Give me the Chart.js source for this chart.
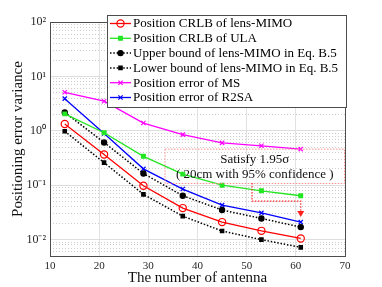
<!DOCTYPE html>
<html>
<head>
<meta charset="utf-8">
<script src="https://cdn.jsdelivr.net/npm/chart.js@4.4.1/dist/chart.umd.min.js"></script>
<style>
  html, body { margin: 0; padding: 0; background: #fff; }
  #wrap { width: 382px; height: 287px; }
</style>
</head>
<body>
<div id="wrap"><canvas id="chart" width="382" height="287"></canvas></div>
<script>
// --- data ---
const antennaCounts = [13, 21, 29, 37, 45, 53, 61];
const crlbLensMimo  = [1.33, 0.366, 0.098, 0.038, 0.021, 0.0145, 0.0105];
const crlbUla       = [2.05, 0.92, 0.34, 0.16, 0.10, 0.079, 0.064];
const upperLensMimo = [2.18, 0.61, 0.164, 0.064, 0.035, 0.0245, 0.017];
const lowerLensMimo = [0.98, 0.26, 0.068, 0.027, 0.0144, 0.010, 0.0072];
const errorMs       = [5.1, 3.5, 1.39, 0.85, 0.60, 0.53, 0.46];
const errorR2sa     = [3.9, 0.89, 0.20, 0.085, 0.043, 0.031, 0.021];

const seriesLabels = [
    'Position CRLB of lens-MIMO',
    'Position CRLB of ULA',
    'Upper bound of lens-MIMO in Eq. B.5',
    'Lower bound of lens-MIMO in Eq. B.5',
    'Position error of MS',
    'Position error of R2SA'
];

const xTickValues = [10, 20, 30, 40, 50, 60, 70];
const yDecadeExps = [-2, -1, 0, 1, 2];
const yTickLabels = ['10\u207B\u00B2', '10\u207B\u00B9', '10\u2070', '10\u00B9', '10\u00B2'];

const noteLines = ['Satisfy 1.95\u03C3', '( 20cm with 95% confidence )'];

const SERIF = '"Liberation Serif", "Times New Roman", serif';

function pts(ys) {
    return antennaCounts.map((x, i) => ({ x: x, y: ys[i] }));
}

function isDecade(v) {
    const l = Math.log10(v);
    return Math.abs(l - Math.round(l)) < 1e-6;
}

// all 1..9 x 10^k ticks between 0.005 and 100
function logTicks() {
    const out = [];
    for (let e = -3; e <= 2; e++) {
        for (let m = 1; m <= 9; m++) {
            const v = parseFloat((m * Math.pow(10, e)).toPrecision(6));
            if (v >= 0.005 && v <= 100) out.push({ value: v, major: isDecade(v) });
        }
    }
    return out;
}

// small marker drawer for the boxed legend
function drawMarker(ctx, style, x, y, r, fill, stroke, lw) {
    ctx.save();
    ctx.setLineDash([]);
    ctx.lineWidth = lw;
    ctx.strokeStyle = stroke;
    ctx.fillStyle = fill;
    ctx.beginPath();
    if (style === 'circle') {
        ctx.arc(x, y, r, 0, Math.PI * 2);
        ctx.fill(); ctx.stroke();
    } else if (style === 'rect') {
        ctx.rect(x - r * 0.7071, y - r * 0.7071, r * 1.4142, r * 1.4142);
        ctx.fill(); ctx.stroke();
    } else {
        const d = r * 0.7071;
        ctx.moveTo(x - d, y - d); ctx.lineTo(x + d, y + d);
        ctx.moveTo(x - d, y + d); ctx.lineTo(x + d, y - d);
        ctx.stroke();
    }
    ctx.restore();
}

const frameAndNotes = {
    id: 'frameAndNotes',
    afterDatasetsDraw(chart) {
        const ctx = chart.ctx;
        const a = chart.chartArea;
        const xs = chart.scales.x, ys = chart.scales.y;

        // confidence box
        const bx0 = xs.getPixelForValue(33.3), bx1 = a.right;
        const by0 = ys.getPixelForValue(0.47), by1 = ys.getPixelForValue(0.11);
        ctx.save();
        ctx.strokeStyle = '#ff8c8c';
        ctx.lineWidth = 1;
        ctx.setLineDash([1.5, 1.5]);
        ctx.strokeRect(bx0 + 0.5, by0 + 0.5, bx1 - bx0 - 1, by1 - by0);
        ctx.setLineDash([]);
        ctx.fillStyle = '#111';
        ctx.textAlign = 'center';
        ctx.textBaseline = 'middle';
        const cx = (bx0 + bx1) / 2;
        ctx.font = '13px ' + SERIF;
        ctx.fillText(noteLines[0], cx, by0 + 11);
        ctx.fillText(noteLines[1], cx, by0 + 25.5);

        // dotted red arrow down to the R2SA end point
        const ax0 = xs.getPixelForValue(51.1), ax1 = xs.getPixelForValue(61);
        const ay = ys.getPixelForValue(0.051), tip = ys.getPixelForValue(0.026);
        ctx.strokeStyle = '#ff2a2a';
        ctx.lineWidth = 1.2;
        ctx.setLineDash([1.5, 1.5]);
        ctx.beginPath();
        ctx.moveTo(ax0, by1);
        ctx.lineTo(ax0, ay);
        ctx.lineTo(ax1, ay);
        ctx.lineTo(ax1, tip - 6);
        ctx.stroke();
        ctx.setLineDash([]);
        ctx.fillStyle = '#ff2020';
        ctx.beginPath();
        ctx.moveTo(ax1 - 3.5, tip - 6);
        ctx.lineTo(ax1 + 3.5, tip - 6);
        ctx.lineTo(ax1, tip);
        ctx.closePath();
        ctx.fill();

        // axes frame
        ctx.strokeStyle = '#4d4d4d';
        ctx.lineWidth = 1;
        ctx.strokeRect(a.left + 0.5, a.top + 0.5, a.right - a.left, a.bottom - a.top);
        ctx.restore();
    },
    afterDraw(chart) {
        const ctx = chart.ctx;
        const x0 = 107, y0 = 15, w = 239, h = 92;
        ctx.save();
        ctx.fillStyle = '#fff';
        ctx.fillRect(x0, y0, w, h);
        ctx.strokeStyle = '#4d4d4d';
        ctx.lineWidth = 1;
        ctx.strokeRect(x0 + 0.5, y0 + 0.5, w, h);
        ctx.font = '13px ' + SERIF;
        ctx.textBaseline = 'middle';
        ctx.textAlign = 'left';
        chart.data.datasets.forEach((ds, i) => {
            const y = 23.5 + i * 14.8;
            ctx.strokeStyle = ds.borderColor;
            ctx.lineWidth = ds.borderWidth;
            ctx.setLineDash(ds.borderDash || []);
            ctx.beginPath();
            ctx.moveTo(110, y);
            ctx.lineTo(131, y);
            ctx.stroke();
            drawMarker(ctx, ds.pointStyle, 120.5, y, ds.pointRadius,
                ds.pointBackgroundColor, ds.pointBorderColor, ds.pointBorderWidth);
            ctx.fillStyle = '#000';
            ctx.fillText(ds.label, 133, y + 0.5);
        });
        ctx.restore();
    }
};

function series(i, ys, color, style, radius, opts) {
    return Object.assign({
        label: seriesLabels[i],
        data: pts(ys),
        borderColor: color,
        borderWidth: 1.3,
        pointStyle: style,
        pointRadius: radius,
        pointBackgroundColor: color,
        pointBorderColor: color,
        pointBorderWidth: 1.2,
        fill: false,
        tension: 0
    }, opts || {});
}

new Chart(document.getElementById('chart'), {
    type: 'line',
    data: {
        datasets: [
            series(0, crlbLensMimo, '#ff0000', 'circle', 3.6, { pointBackgroundColor: 'rgba(0,0,0,0)' }),
            series(1, crlbUla, '#22e622', 'rect', 2.6),
            series(2, upperLensMimo, '#000000', 'circle', 2.6, { borderDash: [1.5, 1.8], borderWidth: 1.5 }),
            series(3, lowerLensMimo, '#000000', 'rect', 2.4, { borderDash: [1.5, 1.8], borderWidth: 1.5 }),
            series(4, errorMs, '#ff00ff', 'crossRot', 3),
            series(5, errorR2sa, '#0000ff', 'crossRot', 3)
        ]
    },
    options: {
        responsive: false,
        animation: false,
        layout: { padding: { top: 22, right: 37, left: 0, bottom: 0 } },
        plugins: {
            legend: { display: false },
            tooltip: { enabled: false }
        },
        scales: {
            x: {
                type: 'linear',
                min: 10,
                max: 70,
                afterBuildTicks: s => { s.ticks = xTickValues.map(v => ({ value: v })); },
                afterFit: s => { s.height = 31; },
                ticks: {
                    autoSkip: false,
                    maxRotation: 0,
                    padding: 4,
                    color: '#262626',
                    font: { family: SERIF, size: 11 }
                },
                grid: { color: '#e2e2e2', drawTicks: false },
                border: { display: false },
                title: {
                    display: true,
                    text: 'The number of antenna',
                    color: '#111',
                    font: { family: SERIF, size: 15 },
                    padding: { top: 0, bottom: 0 }
                }
            },
            y: {
                type: 'logarithmic',
                min: 0.005,
                max: 100,
                afterBuildTicks: s => { s.ticks = logTicks(); },
                afterFit: s => { s.width = 50; },
                ticks: {
                    autoSkip: false,
                    padding: 4,
                    color: '#262626',
                    font: { family: SERIF, size: 12 },
                    callback: v => {
                        if (!isDecade(v)) return '';
                        const k = yDecadeExps.indexOf(Math.round(Math.log10(v)));
                        return k >= 0 ? yTickLabels[k] : '';
                    }
                },
                grid: {
                    drawTicks: false,
                    color: c => (c.tick && c.tick.major) ? '#dedede' : '#cdcdcd'
                },
                border: {
                    display: false,
                    dash: c => (c.tick && !c.tick.major) ? [1, 2] : []
                },
                title: {
                    display: true,
                    text: 'Positioning error variance',
                    color: '#111',
                    font: { family: SERIF, size: 15 },
                    padding: { top: 9, bottom: 0 }
                }
            }
        }
    },
    plugins: [frameAndNotes]
});
</script>
</body>
</html>
